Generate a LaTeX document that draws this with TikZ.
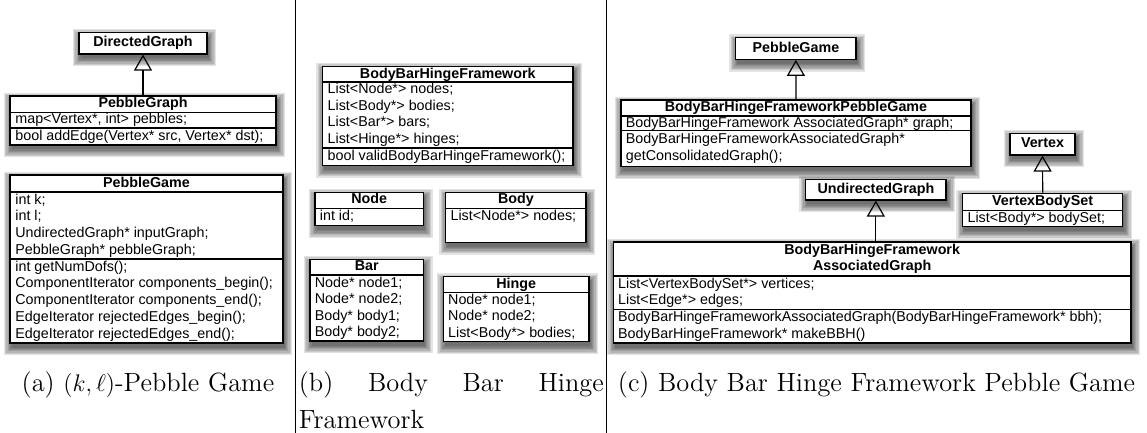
\documentclass[tikz,border=0pt]{standalone}
\usepackage{fontspec}
\newfontfamily\umlsans{Liberation Sans}
\usetikzlibrary{arrows.meta,fit}

% class frame spanning two corners, with a soft layered drop shadow
\newcommand\classrect[5]{%
  \foreach \k in {0,...,6}{%
    \fill[shadowlayer]
      ({#2+1.5-\k*1.3},{#3+4.5-\k*1.3}) rectangle ({#4+1.5+\k*1.3},{#5+4.5+\k*1.3});}
  \node[cls, fit={(#2,#3) (#4,#5)}] (#1) {};}
% compartment line inside a class frame
\newcommand\classsep[3]{\draw[compline] (#1,#3) -- (#2,#3);}

\tikzset{
  shadowlayer/.style={black, opacity=0.11},
  cls/.style={draw, line width=0.6pt, fill=white, inner sep=0pt},
  compline/.style={line width=0.6pt},
  hdr/.style={font=\umlsans\fontsize{7.15}{8.1}\selectfont\bfseries,
    inner sep=0pt, text height=5.2pt, text depth=1.5pt},
  hdrtwo/.style={font=\umlsans\fontsize{7.15}{8.0}\selectfont\bfseries,
    inner sep=0pt, align=center},
  row/.style={font=\umlsans\fontsize{7.15}{8.1}\selectfont,
    inner sep=0pt, anchor=west, text height=5.2pt, text depth=1.5pt},
  inherit/.style={line width=0.6pt, -{Triangle[open, length=8pt, width=9pt]}},
  colrule/.style={line width=0.5pt},
  captext/.style={font=\fontsize{13.2}{18.5}\selectfont, inner sep=0pt}
}

\begin{document}
\begin{tikzpicture}[x=0.5pt, y=-0.5pt]
\useasboundingbox (0,0) rectangle (1147,433);

% ---------- (a) (k,l)-pebble game ----------
\classrect{dg}{79}{32.5}{207}{54}
\node[hdr] (dg-t) at (143,43.2) {DirectedGraph};

\classrect{pgr}{10}{96}{276}{145}
\node[hdr] (pgr-t) at (143,104.3) {PebbleGraph};
\classsep{10}{276}{112.3}
\classsep{10}{276}{128}
\node[row] (pgr-a1) at (15,120.2) {map<Vertex*, int> pebbles;};
\node[row] (pgr-m1) at (15,136.5) {bool addEdge(Vertex* src, Vertex* dst);};

\draw[inherit] (pgr.north) -- (dg.south);

\classrect{pga}{10}{175}{283}{343}
\node[hdr] (pga-t) at (146.5,183.6) {PebbleGame};
\classsep{10}{283}{192}
\node[row] (pga-a1) at (15,200.4) {int k;};
\node[row] (pga-a2) at (15,217.1) {int l;};
\node[row] (pga-a3) at (15,233.9) {UndirectedGraph* inputGraph;};
\node[row] (pga-a4) at (15,250.6) {PebbleGraph* pebbleGraph;};
\classsep{10}{283}{259}
\node[row] (pga-m1) at (15,267.4) {int getNumDofs();};
\node[row] (pga-m2) at (15,284.2) {ComponentIterator components\_begin();};
\node[row] (pga-m3) at (15,301.0) {ComponentIterator components\_end();};
\node[row] (pga-m4) at (15,317.8) {EdgeIterator rejectedEdges\_begin();};
\node[row] (pga-m5) at (15,334.6) {EdgeIterator rejectedEdges\_end();};

% ---------- (b) body bar hinge framework ----------
\classrect{bbh}{322.7}{66.5}{573}{165.5}
\node[hdr] (bbh-t) at (447.8,74.5) {BodyBarHingeFramework};
\classsep{322.7}{573}{82}
\node[row] (bbh-a1) at (327.3,90.3) {List<Node*> nodes;};
\node[row] (bbh-a2) at (327.3,106.8) {List<Body*> bodies;};
\node[row] (bbh-a3) at (327.3,123.3) {List<Bar*> bars;};
\node[row] (bbh-a4) at (327.3,139.8) {List<Hinge*> hinges;};
\classsep{322.7}{573}{148.1}
\node[row] (bbh-m1) at (327.3,156.8) {bool validBodyBarHingeFramework();};

\classrect{nd}{315}{192.3}{423.3}{225.7}
\node[hdr] (nd-t) at (369.2,200.3) {Node};
\classsep{315}{423.3}{208.2}
\node[row] (nd-a1) at (319.5,216.9) {int id;};

\classrect{bd}{445.7}{192.3}{586}{242.3}
\node[hdr] (bd-t) at (515.9,200.3) {Body};
\classsep{445.7}{586}{208.2}
\node[row] (bd-a1) at (450.2,216.9) {List<Node*> nodes;};

\classrect{br}{310}{259.3}{423.3}{341}
\node[hdr] (br-t) at (366.7,267.3) {Bar};
\classsep{310}{423.3}{275}
\node[row] (br-a1) at (314.5,283.3) {Node* node1;};
\node[row] (br-a2) at (314.5,299.8) {Node* node2;};
\node[row] (br-a3) at (314.5,316.3) {Body* body1;};
\node[row] (br-a4) at (314.5,332.8) {Body* body2;};

\classrect{hg}{443.3}{276.7}{589}{341.8}
\node[hdr] (hg-t) at (516.2,284.6) {Hinge};
\classsep{443.3}{589}{292.3}
\node[row] (hg-a1) at (447.8,300.6) {Node* node1;};
\node[row] (hg-a2) at (447.8,317.1) {Node* node2;};
\node[row] (hg-a3) at (447.8,333.6) {List<Body*> bodies;};

% ---------- (c) body bar hinge framework pebble game ----------
\classrect{pgc}{735.7}{37.7}{856}{59.3}
\node[hdr] (pgc-t) at (795.9,48.6) {PebbleGame};

\classrect{fpg}{621}{100}{971}{166.7}
\node[hdr] (fpg-t) at (796,108.1) {BodyBarHingeFrameworkPebbleGame};
\classsep{621}{971}{116}
\node[row] (fpg-a1) at (625.5,123.5) {BodyBarHingeFramework AssociatedGraph* graph;};
\classsep{621}{971}{130.8}
\node[row] (fpg-m1) at (625.5,140.2) {BodyBarHingeFrameworkAssociatedGraph*};
\node[row] (fpg-m2) at (625.5,156.9) {getConsolidatedGraph();};

\draw[inherit] (fpg.north) -- (pgc.south);

\classrect{vx}{1010}{133.3}{1075}{155}
\node[hdr] (vx-t) at (1042.5,144.2) {Vertex};

\classrect{vbs}{962.7}{193.3}{1122.7}{226.7}
\node[hdr] (vbs-t) at (1042.7,201.9) {VertexBodySet};
\classsep{962.7}{1122.7}{210.5}
\node[row] (vbs-a1) at (967.2,218.6) {List<Body*> bodySet;};

\draw[inherit] (vbs.north) -- (vx.south);

\classrect{ug}{805.7}{179.3}{946}{200}
\node[hdr] (ug-t) at (875.9,189.7) {UndirectedGraph};

\classrect{ag}{613.3}{242}{1131}{343}
\node[hdrtwo] (ag-t) at (872.2,258.6) {BodyBarHingeFramework\\AssociatedGraph};
\classsep{613.3}{1131}{276}
\node[row] (ag-a1) at (617.8,284.4) {List<VertexBodySet*> vertices;};
\node[row] (ag-a2) at (617.8,301.1) {List<Edge*> edges;};
\classsep{613.3}{1131}{309.5}
\node[row] (ag-m1) at (617.8,317.9) {BodyBarHingeFrameworkAssociatedGraph(BodyBarHingeFramework* bbh);};
\node[row] (ag-m2) at (617.8,334.6) {BodyBarHingeFramework* makeBBH()};

\draw[inherit] (ag.north -| ug.south) -- (ug.south);

% ---------- column rules ----------
\draw[colrule] (295.5,0) -- (295.5,433);
\draw[colrule] (606,0) -- (606,433);

% ---------- captions ----------
\node[captext, anchor=base] (cap-a) at (148,391) {(a) $(k,\ell)$-Pebble Game};
\node[captext, anchor=north west, text width=152.5pt, align=left] (cap-b) at (298.5,371)
  {(b)\hfill Body\hfill Bar\hfill Hinge\\Framework};
\node[captext, anchor=base] (cap-c) at (876.5,391) {(c) Body Bar Hinge Framework Pebble Game};
\end{tikzpicture}
\end{document}
